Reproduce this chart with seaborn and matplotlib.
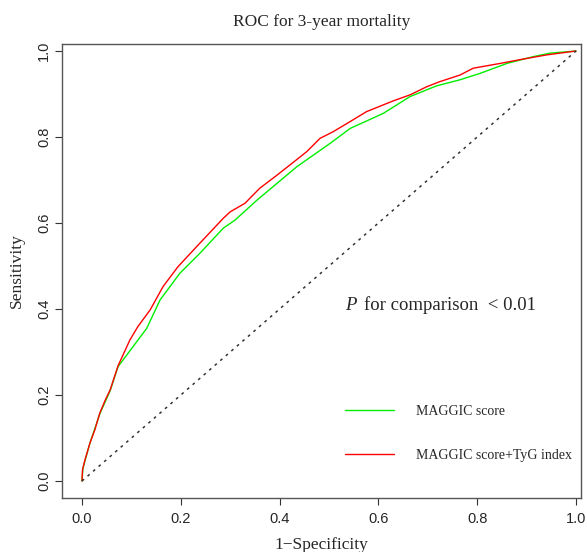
import matplotlib
matplotlib.use("Agg")
import matplotlib.pyplot as plt
import seaborn as sns
import pandas as pd

# ROC data
fpr_maggic = [0, 0.002, 0.016, 0.036, 0.057, 0.073, 0.131, 0.158, 0.198, 0.239, 0.286, 0.310,
              0.354, 0.435, 0.502, 0.543, 0.610, 0.664, 0.718, 0.765, 0.806, 0.860, 0.914, 0.947, 1.0]
tpr_maggic = [0, 0.030, 0.088, 0.156, 0.210, 0.266, 0.355, 0.421, 0.483, 0.530, 0.588, 0.607,
              0.653, 0.731, 0.785, 0.820, 0.855, 0.894, 0.919, 0.933, 0.948, 0.971, 0.987, 0.995, 1.0]

fpr_tyg = [0, 0.001, 0.006, 0.016, 0.026, 0.036, 0.047, 0.057, 0.073, 0.097, 0.113, 0.138, 0.164,
           0.194, 0.232, 0.286, 0.300, 0.330, 0.360, 0.391, 0.421, 0.455, 0.482, 0.508, 0.543,
           0.576, 0.630, 0.664, 0.698, 0.725, 0.765, 0.792, 0.846, 0.887, 0.941, 1.0]
tpr_tyg = [0, 0.026, 0.049, 0.088, 0.119, 0.158, 0.188, 0.212, 0.268, 0.328, 0.359, 0.398, 0.452,
           0.498, 0.545, 0.611, 0.626, 0.646, 0.681, 0.708, 0.735, 0.766, 0.797, 0.812, 0.836,
           0.859, 0.884, 0.898, 0.917, 0.929, 0.944, 0.960, 0.971, 0.980, 0.991, 1.0]

labels = ["MAGGIC score", "MAGGIC score+TyG index"]
colors = ["#00ee00", "#ff0000"]
diag = [0, 1]
ticks = [0.0, 0.2, 0.4, 0.6, 0.8, 1.0]

sns.set_style("white")
serif = ["Liberation Serif", "DejaVu Serif"]
sans = ["Liberation Sans", "DejaVu Sans"]
plt.rcParams['font.family'] = sans

fig = plt.figure(figsize=(5.87, 5.52), dpi=100)
ax = fig.add_axes([62/587, 54/552, 519/587, 454/552])

df1 = pd.DataFrame({"x": fpr_maggic, "y": tpr_maggic})
df2 = pd.DataFrame({"x": fpr_tyg, "y": tpr_tyg})
sns.lineplot(data=df1, x="x", y="y", sort=False, estimator=None, color=colors[0],
             lw=1.0, ax=ax, label=labels[0])
sns.lineplot(data=df2, x="x", y="y", sort=False, estimator=None, color=colors[1],
             lw=1.0, ax=ax, label=labels[1])
ax.plot(diag, diag, color="#333333", lw=1.1, linestyle=(0, (1.8, 3.0)))

ax.set_xlim(-20/494, 1 + 5/494)
ax.set_ylim(-17/430, 1 + 7/430)
ax.set_xticks(ticks)
ax.set_yticks(ticks)
ax.set_xticklabels([f"{t:.1f}" for t in ticks], fontsize=10.5)
ax.set_yticklabels([f"{t:.1f}" for t in ticks], fontsize=10.5, rotation=90, va="center")
ax.tick_params(axis="both", direction="out", length=5, width=0.8, color="#333333",
               bottom=True, left=True)
ax.tick_params(axis="y", pad=3)
ax.tick_params(axis="x", pad=5)
for s in ax.spines.values():
    s.set_color("#555555")
    s.set_linewidth(1.0)

ax.set_xlabel("1\u2212Specificity", fontsize=12.5, family=serif, labelpad=8)
ax.set_ylabel("Sensitivity", fontsize=12.5, family=serif, labelpad=9)
ax.set_title("ROC for 3-year mortality", fontsize=12.5, family=serif, pad=13)

ax.text((345-62)/519, (498-305)/454, "P", transform=ax.transAxes, fontsize=13.5,
        family=serif, style="italic", va="center", ha="left")
ax.text((364-62)/519, (498-305)/454, "for comparison  < 0.01", transform=ax.transAxes,
        fontsize=13.5, family=serif, va="center", ha="left")

leg = ax.legend(loc="upper left", bbox_to_anchor=((345-62)/519, (498-405)/454),
                frameon=False, handlelength=3.5, handletextpad=1.6, labelspacing=2.2,
                borderpad=0, borderaxespad=0, prop={"family": serif, "size": 10})

fig.savefig("out.png", dpi=100)
